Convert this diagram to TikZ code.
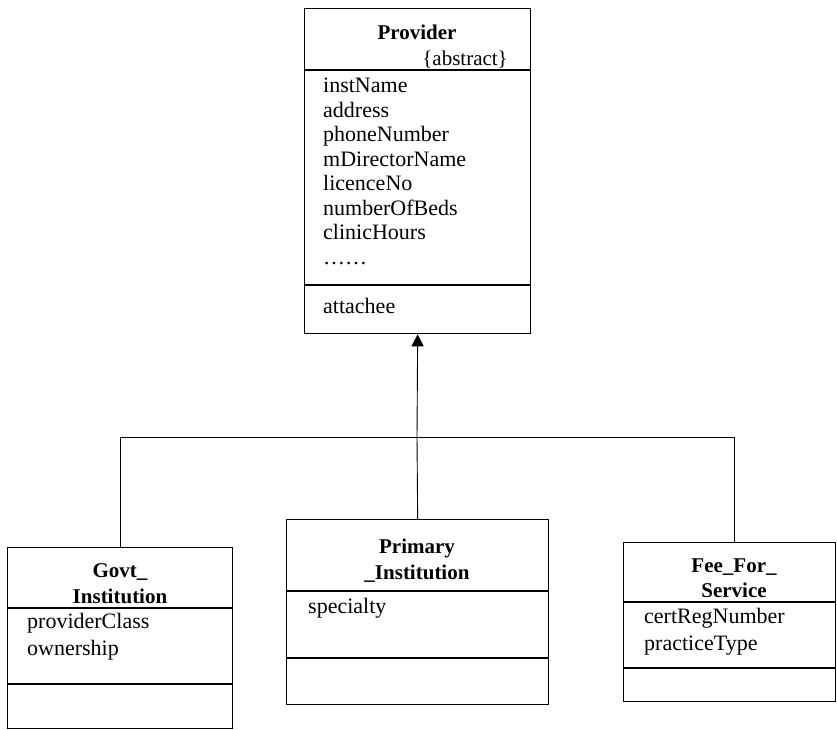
\documentclass[tikz,border=0pt]{standalone}
\usepackage{fontspec}
\setmainfont{Liberation Serif}
\usetikzlibrary{arrows.meta}
\begin{document}
\begin{tikzpicture}[x=1pt,y=-1pt,
  box/.style={draw, line width=1.3pt, inner sep=0pt, anchor=north west},
  sepline/.style={line width=1.3pt},
  cname/.style={font=\fontsize{21}{26}\selectfont\bfseries, inner sep=0pt, align=center, anchor=north},
  attrs/.style={font=\fontsize{22}{24.5}\selectfont, inner sep=0pt, anchor=north west, align=left},
  link/.style={line width=0.9pt}]
\useasboundingbox[fill=white] (0,0) rectangle (837,729);

% ---------- Provider ----------
\node[box, minimum width=226pt, minimum height=325pt] (prov) at (304,8) {};
\draw[sepline] (304,70) -- (530,70);
\draw[sepline] (304,285) -- (530,285);
\node[font=\fontsize{21}{26}\selectfont\bfseries, inner sep=0pt, anchor=base] (provname) at (417,39) {Provider};
\node[font=\fontsize{21}{26}\selectfont, inner sep=0pt, anchor=base east] (provabs) at (508,65) {\{abstract\}};
\node[attrs] (provattr) at (323,78) {instName\\address\\phoneNumber\\mDirectorName\\licenceNo\\numberOfBeds\\clinicHours\\……};
\node[attrs] (provops) at (323,298) {attachee};

% ---------- Govt_Institution ----------
\node[box, minimum width=225pt, minimum height=181pt] (govt) at (7,547) {};
\draw[sepline] (7,608) -- (232,608);
\draw[sepline] (7,684) -- (232,684);
\node[cname, font=\fontsize{21}{26}\selectfont\bfseries] (govtname) at (120,563) {Govt\_\\Institution};
\node[attrs, font=\fontsize{22}{27}\selectfont] (govtattr) at (27,613) {providerClass\\ownership};

% ---------- Primary_Institution ----------
\node[box, minimum width=262pt, minimum height=185pt] (prim) at (286,519) {};
\draw[sepline] (286,591) -- (548,591);
\draw[sepline] (286,658) -- (548,658);
\node[cname] (primname) at (417,539) {Primary\\\_Institution};
\node[attrs] (primattr) at (308,598) {specialty};

% ---------- Fee_For_Service ----------
\node[box, minimum width=212pt, minimum height=159pt] (fee) at (623,542) {};
\draw[sepline] (623,602) -- (835,602);
\draw[sepline] (623,668) -- (835,668);
\node[cname, font=\fontsize{21}{25}\selectfont\bfseries] (feename) at (734,559) {Fee\_For\_\\Service};
\node[attrs, font=\fontsize{22}{27}\selectfont] (feeattr) at (644,608) {certRegNumber\\practiceType};

% ---------- generalization ----------
\coordinate (junc) at (417,437);
\coordinate (feetop) at (734,542);
\draw[link] (govt.north) |- (junc);
\draw[link] (feetop) |- (junc);
\draw[link] (prim.north) -- (junc);
\draw[link, -{Triangle[length=12pt,width=12pt]}] (junc) -- (prov.south);
\end{tikzpicture}
\end{document}
